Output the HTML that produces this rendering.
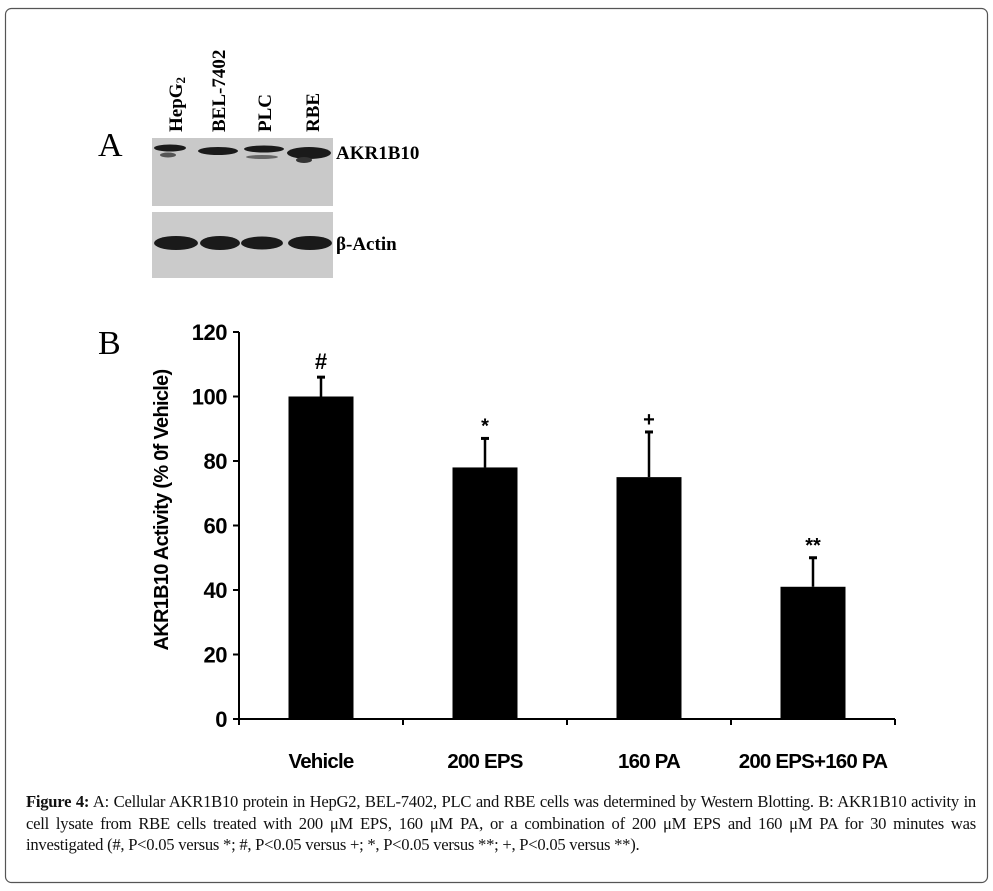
<!DOCTYPE html>
<html><head><meta charset="utf-8"><style>
body{margin:0;background:#fff;}
svg{display:block;}
.cap{position:absolute;left:26px;top:791px;width:950px;font-family:"Liberation Serif",serif;font-size:16.6px;line-height:21.5px;color:#111;letter-spacing:-0.25px;}
.cap div{white-space:nowrap;}
.cap .j{text-align:justify;text-align-last:justify;}
</style></head><body>
<div style="position:relative;width:993px;height:891px;">
<svg width="993" height="891" id="fig">
<rect x="5.5" y="8.5" width="982" height="874" rx="6" fill="#fff" stroke="#555" stroke-width="1.2"/>
<g font-family="Liberation Serif, serif">
<text x="98" y="156" font-size="34">A</text>
<rect x="152" y="138" width="181" height="68" fill="#c9c9c9"/>
<rect x="152" y="212" width="181" height="66" fill="#cbcbcb"/>
<g fill="#1a1a1a">
<ellipse cx="170" cy="148" rx="16" ry="3.5"/><ellipse cx="168" cy="155" rx="8" ry="2.5" fill="#555"/>
<ellipse cx="218" cy="151" rx="20" ry="4"/>
<ellipse cx="264" cy="149" rx="20" ry="3.5"/><ellipse cx="262" cy="157" rx="16" ry="2" fill="#666"/>
<ellipse cx="309" cy="153" rx="22" ry="6"/><ellipse cx="304" cy="160" rx="8" ry="3" fill="#333"/>
<ellipse cx="176" cy="243" rx="22" ry="7"/><ellipse cx="220" cy="243" rx="20" ry="7"/>
<ellipse cx="262" cy="243" rx="21" ry="6.5"/><ellipse cx="310" cy="243" rx="22" ry="7"/>
</g>
<g font-size="19" font-weight="bold">
<text transform="translate(182,132) rotate(-90)">HepG<tspan font-size="13" dy="3">2</tspan></text>
<text transform="translate(225,132) rotate(-90)">BEL-7402</text>
<text transform="translate(271,132) rotate(-90)">PLC</text>
<text transform="translate(319,132) rotate(-90)">RBE</text>
<text x="336" y="159">AKR1B10</text>
<text x="336" y="250">β-Actin</text>
</g>
<text x="98" y="354" font-size="34">B</text>
</g>
<g id="chart" font-family="Liberation Sans, Arial, sans-serif" font-weight="bold"></g>
</svg>
<div class="cap">
<div class="j"><b>Figure 4:</b> A: Cellular AKR1B10 protein in HepG2, BEL-7402, PLC and RBE cells was determined by Western Blotting. B: AKR1B10 activity in</div>
<div class="j">cell lysate from RBE cells treated with 200 μM EPS, 160 μM PA, or a combination of 200 μM EPS and 160 μM PA for 30 minutes was</div>
<div>investigated (#, P&lt;0.05 versus *; #, P&lt;0.05 versus +; *, P&lt;0.05 versus **; +, P&lt;0.05 versus **).</div>
</div>
</div>
<script>
const categories=["Vehicle","200 EPS","160 PA","200 EPS+160 PA"];
const values=[100,78,75,41];
const errors=[6,9,14,9];
const marks=["#","*","+","**"];
const yTicks=[0,20,40,60,80,100,120];
const NS="http://www.w3.org/2000/svg";
const g=document.getElementById('chart');
const X0=239,Y0=719,Y120=332,STEP=164,BW=65;
function y(v){return Y0-(v/120)*(Y0-Y120);}
function cx(i){return X0+STEP*(i+0.5);}
function el(t,a,txt){const e=document.createElementNS(NS,t);for(const k in a)e.setAttribute(k,a[k]);if(txt!==undefined)e.textContent=txt;g.appendChild(e);return e;}
let ax=el('line',{x1:X0,y1:Y120,x2:X0,y2:Y0,stroke:'#000','stroke-width':2});


let xa=el('line',{x1:X0-5,y1:Y0,x2:X0+STEP*categories.length,y2:Y0,stroke:'#000','stroke-width':2});


yTicks.forEach(t=>{
  el('line',{x1:X0-6,y1:y(t),x2:X0,y2:y(t),stroke:'#000','stroke-width':2});
  const tl=el('text',{x:X0-12,y:y(t)+8,'font-size':22,'text-anchor':'end','letter-spacing':'-0.5'},t);
  
  
});
for(let i=0;i<=categories.length;i++){el('line',{x1:X0+STEP*i,y1:Y0,x2:X0+STEP*i,y2:Y0+6,stroke:'#000','stroke-width':2});}
categories.forEach((c,i)=>{
  const x=cx(i);
  const ee=el('line',{x1:x,y1:y(values[i]),x2:x,y2:y(values[i]+errors[i]),stroke:'#000','stroke-width':2.5});
  
  
  el('line',{x1:x-4,y1:y(values[i]+errors[i]),x2:x+4,y2:y(values[i]+errors[i]),stroke:'#000','stroke-width':3});
  const b=el('rect',{x:x-BW/2,y:y(values[i]),width:BW,height:Y0-y(values[i]),fill:'#000'});
  
  
  const m=el('text',{x:x,y:y(values[i]+errors[i])-(marks[i]==='#'?8:6),'font-size':marks[i]==='#'?22:20,'text-anchor':'middle'},marks[i]);
  
  
  const l=el('text',{x:x,y:768,'font-size':20.5,'text-anchor':'middle','letter-spacing':'-0.8'},c);
  
  
});
const yt=el('text',{transform:'translate(168,510) rotate(-90)','font-size':20,'text-anchor':'middle','letter-spacing':'-0.7'},'AKR1B10 Activity (% 0f Vehicle)');


</script>
</body></html>
